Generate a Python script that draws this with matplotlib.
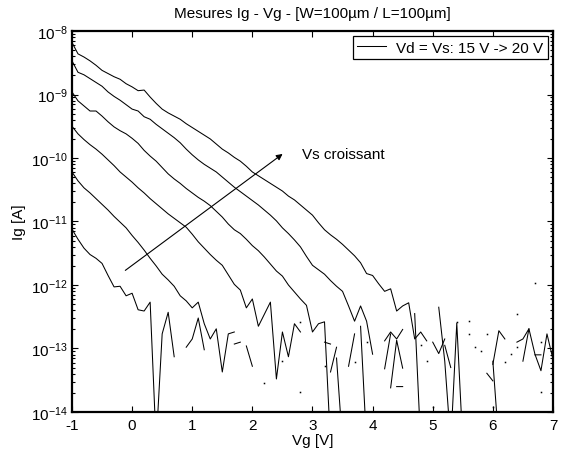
import numpy as np
import matplotlib
matplotlib.use('Agg')
import matplotlib.pyplot as plt
from matplotlib.ticker import NullFormatter

plt.rcParams['font.family'] = ['Liberation Sans', 'DejaVu Sans']
plt.rcParams['mathtext.fontset'] = 'custom'
plt.rcParams['mathtext.rm'] = 'Liberation Sans'
plt.rcParams['mathtext.it'] = 'Liberation Sans:italic'
plt.rcParams['axes.unicode_minus'] = False

# gate voltage sweep [V]
vg = [-1.0, -0.9, -0.8, -0.7, -0.6, -0.5, -0.4, -0.3, -0.2, -0.1,
      0.0, 0.1, 0.2, 0.3, 0.4, 0.5, 0.6, 0.7, 0.8, 0.9,
      1.0, 1.1, 1.2, 1.3, 1.4, 1.5, 1.6, 1.7, 1.8, 1.9,
      2.0, 2.1, 2.2, 2.3, 2.4, 2.5, 2.6, 2.7, 2.8, 2.9,
      3.0, 3.1, 3.2, 3.3, 3.4, 3.5, 3.6, 3.7, 3.8, 3.9,
      4.0, 4.1, 4.2, 4.3, 4.4, 4.5, 4.6, 4.7, 4.8, 4.9,
      5.0, 5.1, 5.2, 5.3, 5.4, 5.5, 5.6, 5.7, 5.8, 5.9,
      6.0, 6.1, 6.2, 6.3, 6.4, 6.5, 6.6, 6.7, 6.8, 6.9, 7.0]

# log10(Ig [A]), None = negative current (not shown on log axis)
ig_15v = [-8.18, -8.36, -8.41, -8.47, -8.54, -8.62, -8.67, -8.72, -8.76, -8.83,
          -8.88, -8.94, -8.93, -9.04, -9.14, -9.23, -9.29, -9.34, -9.39, -9.46,
          -9.52, -9.58, -9.64, -9.70, -9.78, -9.86, -9.92, -9.99, -10.05, -10.13,
          -10.22, -10.28, -10.34, -10.40, -10.46, -10.52, -10.60, -10.66, -10.74, -10.82,
          -10.90, -11.02, -11.13, -11.21, -11.28, -11.36, -11.45, -11.54, -11.65, -11.82,
          -11.85, -11.98, -12.10, -12.06, -12.41, -12.33, -12.28, -12.85, -12.74, -12.88,
          None, None, None, None, None, None, None, None, None, None,
          None, None, None, None, -12.90, -12.85, -12.69, -13.09, -13.35, -12.77, -13.17]

ig_16v = [-8.47, -8.65, -8.69, -8.75, -8.81, -8.87, -8.96, -9.03, -9.09, -9.16,
          -9.23, -9.26, -9.35, -9.39, -9.47, -9.54, -9.61, -9.68, -9.76, -9.86,
          -9.95, -10.03, -10.10, -10.16, -10.22, -10.30, -10.38, -10.46, -10.53, -10.60,
          -10.67, -10.74, -10.82, -10.90, -10.99, -11.10, -11.19, -11.29, -11.40, -11.55,
          -11.69, -11.76, -11.83, -11.93, -12.02, -12.10, -12.33, -12.57, -12.33, -12.57,
          -13.09, None, None, None, -13.60, -13.60, None, None, None, None,
          None, -12.35, -13.20, -14.50, None, None, None, None, None, None,
          -13.25, -12.72, -12.85, None, None, -13.20, -12.69, None, None, None, None]

ig_17v = [-8.96, -9.10, -9.18, -9.26, -9.26, -9.34, -9.43, -9.51, -9.57, -9.62,
          -9.69, -9.77, -9.88, -9.97, -10.05, -10.15, -10.25, -10.33, -10.40, -10.48,
          -10.55, -10.62, -10.68, -10.75, -10.84, -10.93, -11.04, -11.13, -11.19, -11.28,
          -11.38, -11.46, -11.56, -11.67, -11.78, -11.86, -12.00, -12.11, -12.22, -12.32,
          -12.74, -12.61, -12.58, -14.50, None, None, None, None, -12.65, -14.50,
          None, None, None, None, None, None, None, -12.45, -14.50, None,
          None, None, None, None, None, None, -12.77, None, None, -13.39,
          -13.51, None, None, -13.09, None, None, None, -13.10, -13.10, None, None]

ig_18v = [-9.50, -9.62, -9.71, -9.79, -9.86, -9.94, -10.03, -10.12, -10.22, -10.30,
          -10.38, -10.47, -10.55, -10.64, -10.72, -10.80, -10.88, -10.95, -11.02, -11.09,
          -11.20, -11.32, -11.42, -11.52, -11.61, -11.69, -11.84, -11.99, -12.08, -12.36,
          -12.22, -12.65, -12.46, -12.27, -13.48, -12.74, -13.13, -12.61, -12.74, None,
          None, None, -12.90, -12.93, None, None, -13.28, -12.77, None, -12.90,
          None, None, -12.88, -12.74, -12.85, -12.70, None, None, None, -13.20,
          None, None, None, -14.50, -12.60, -14.50, None, None, None, None,
          -13.20, -14.50, None, None, -12.98, None, None, None, -12.90, None, None]

ig_19v = [-10.22, -10.36, -10.47, -10.55, -10.64, -10.73, -10.82, -10.92, -11.01, -11.10,
          -11.22, -11.33, -11.45, -11.58, -11.70, -11.83, -11.92, -12.02, -12.17, -12.25,
          -12.36, -12.27, -12.61, -12.85, -12.69, -13.37, -12.77, -12.74, None, -12.96,
          -13.28, None, None, None, None, None, None, None, -12.58, None,
          None, None, None, -13.37, -12.98, None, None, None, None, None,
          None, None, -13.32, -12.77, None, None, None, None, -12.94, None,
          -12.90, -13.08, -12.85, None, -12.58, None, None, -12.98, None, -12.77,
          None, None, None, None, None, None, None, None, -13.69, None, None]

ig_20v = [-11.12, -11.28, -11.42, -11.52, -11.58, -11.66, -11.85, -12.03, -12.02, -12.17,
          -12.13, -12.39, -12.41, -12.27, -14.50, -12.77, -12.43, -13.13, None, -12.98,
          -12.85, -12.52, -13.02, None, None, None, None, -12.93, -12.90, None,
          None, None, -13.55, None, None, -13.20, None, None, -13.69, None,
          None, None, -13.28, None, -13.15, -14.50, None, -13.21, None, None,
          None, None, None, -13.62, -12.87, -13.31, None, None, None, None,
          -13.92, None, -12.95, -13.30, None, None, -12.56, None, -13.04, None,
          -13.92, None, -13.21, None, -12.46, None, None, -11.97, None, None, None]

series = [ig_15v, ig_16v, ig_17v, ig_18v, ig_19v, ig_20v]
legend_label = 'Vd = Vs: 15 V -> 20 V'
decades = [-14, -13, -12, -11, -10, -9, -8]

fig = plt.figure(figsize=(5.61, 4.52), dpi=100)
ax = fig.add_axes([0.1283, 0.0863, 0.8574, 0.8429])

x = np.array(vg)
for k, s in enumerate(series):
    y = 10 ** np.array([np.nan if v is None else v for v in s], dtype=float)
    ax.plot(x, y, color='k', lw=0.75, label=legend_label if k == 0 else '_nolegend_')
    # isolated points: Matlab leaves a tiny dot there
    ok = np.isfinite(y)
    prev = np.concatenate([[False], ok[:-1]])
    nxt = np.concatenate([ok[1:], [False]])
    lone = ok & ~prev & ~nxt
    ax.plot(x[lone], y[lone], ls='none', marker='s', ms=1.1, color='k', mew=0)

ax.set_yscale('log')
ax.set_xlim(-1, 7)
ax.set_ylim(1e-14, 1e-8)
ax.set_xticks(range(-1, 8))
ax.set_yticks([10.0 ** d for d in decades])
ax.set_yticklabels([r'$10^{%d}$' % d for d in decades])
ax.set_yticks([m * 10.0 ** d for d in decades[:-1] for m in range(2, 10)], minor=True)
ax.yaxis.set_minor_formatter(NullFormatter())
ax.tick_params(which='both', direction='in', top=True, right=True, labelsize=11, width=0.8)
ax.tick_params(which='major', length=4, pad=3)
ax.tick_params(axis='x', which='major', pad=4)
ax.tick_params(which='minor', length=2)
for sp in ax.spines.values():
    sp.set_linewidth(1.6)

ax.set_title('Mesures Ig - Vg - [W=100µm / L=100µm]', fontsize=11, pad=10)
ax.set_xlabel('Vg [V]', fontsize=11)
ax.set_ylabel('Ig [A]', fontsize=11)
ax.xaxis.set_label_coords(0.5, -0.055)
ax.yaxis.set_label_coords(-0.096, 0.5)

leg = ax.legend(loc='upper right', fontsize=11, fancybox=False, framealpha=1,
                edgecolor='k', borderaxespad=0.33, handlelength=1.9,
                handletextpad=0.65, borderpad=0.3)
leg.get_frame().set_linewidth(0.9)

ax.annotate('', xy=(2.54, 1.23e-10), xytext=(-0.15, 1.6e-12),
            arrowprops=dict(arrowstyle='-|>', color='k', lw=0.8, mutation_scale=9))
ax.text(2.83, 1.15e-10, 'Vs croissant', fontsize=11, va='center', ha='left')

fig.savefig('out.png', dpi=100)
